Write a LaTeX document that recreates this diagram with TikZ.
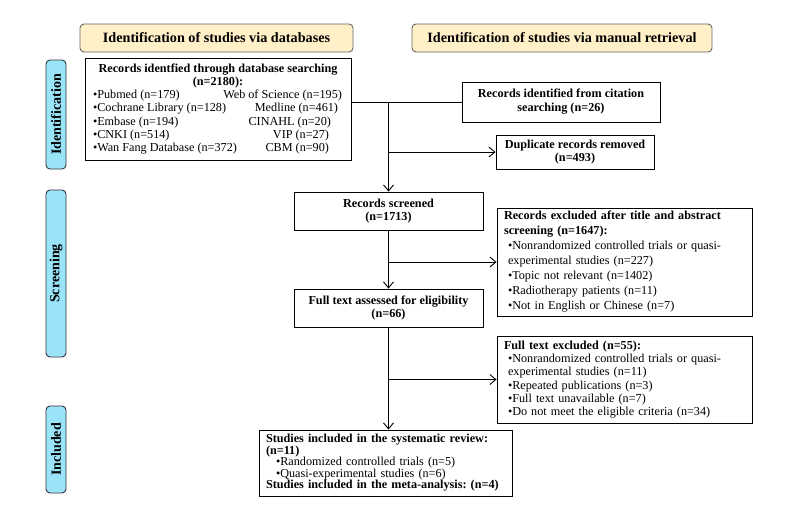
\documentclass[tikz,border=0pt]{standalone}
\usepackage{fontspec}
\setmainfont{Liberation Serif}
\usetikzlibrary{arrows.meta}
\definecolor{hdrfill}{HTML}{FFF0C8}
\definecolor{sidefill}{HTML}{9AE4FA}
% one line of the database list: left entry, right entry, gap at the right
\newcommand{\dbrow}[3]{\makebox[250pt]{#1\hfill#2\hspace*{#3}}}
\begin{document}
\frenchspacing
\begin{tikzpicture}
    [
        x=1pt, y=-1pt,
        >={Straight Barb[length=6pt,width=10pt]},
        link/.style={line width=0.9pt,},
        box/.style={draw, line width=0.9pt, inner sep=0pt, align=center,
            font=\fontsize{12.2}{13.3}\selectfont,},
        listbox/.style={box, align=left, inner xsep=7pt,},
        hdr/.style={draw=black!60, fill=hdrfill, rounded corners=4pt, line width=0.9pt,
            minimum height=28pt, font=\bfseries\fontsize{14.2}{16}\selectfont,},
        side/.style={draw=black!80, fill=sidefill, rounded corners=4pt, line width=0.9pt,
            rotate=90, minimum height=20pt, inner sep=0pt,
            font=\bfseries\fontsize{14}{15}\selectfont,},
    ]
    \useasboundingbox (0,0) rectangle (800,515);

    % headers
    \node (hdb)  at (216.5,38) [hdr, minimum width=273pt] {Identification of studies via databases};
    \node (hman) at (562,38)   [hdr, minimum width=300pt] {Identification of studies via manual retrieval};

    % stages
    \node (sid)  at (56,114.5) [side, minimum width=109pt] {Identification};
    \node (sscr) at (56,273.5) [side, minimum width=167pt] {Screening};
    \node (sinc) at (56,449.5) [side, minimum width=87pt]  {Included};

    % identification
    \node (db) at (218,109) [box, minimum width=266pt, minimum height=102pt]
        {\textbf{Records identfied through database searching}\\
         \textbf{(n=2180):}\\
         \dbrow{•Pubmed (n=179)}{Web of Science (n=195)}{1pt}\\
         \dbrow{•Cochrane Library (n=128)}{Medline (n=461)}{5pt}\\
         \dbrow{•Embase (n=194)}{CINAHL (n=20)}{12pt}\\
         \dbrow{•CNKI (n=514)}{VIP (n=27)}{14pt}\\
         \dbrow{•Wan Fang Database (n=372)}{CBM (n=90)}{14pt}};
    \node (cite) at (561,102) [box, minimum width=198pt, minimum height=40pt,
        font=\fontsize{12.2}{14}\selectfont]
        {\textbf{Records identified from citation}\\ \textbf{searching (n=26)}};
    \node (dup) at (575,152) [box, minimum width=158pt, minimum height=34pt]
        {\textbf{Duplicate records removed}\\ \textbf{(n=493)}};

    % screening
    \node (scr) at (388.5,211) [box, minimum width=189pt, minimum height=38pt]
        {\textbf{Records screened}\\ \textbf{(n=1713)}};
    \node (exa) at (624.5,262) [listbox, text width=241pt, minimum height=108pt,
        font=\fontsize{12.2}{15}\selectfont]
        {\textbf{Records excluded after title and abstract}\\
         \textbf{screening (n=1647):}\\
         \hspace*{4pt}•Nonrandomized controlled trials or quasi-\\
         \hspace*{4pt}experimental studies (n=227)\\
         \hspace*{4pt}•Topic not relevant (n=1402)\\
         \hspace*{4pt}•Radiotherapy patients (n=11)\\
         \hspace*{4pt}•Not in English or Chinese (n=7)};
    \node (full) at (388.5,308) [box, minimum width=189pt, minimum height=38pt]
        {\textbf{Full text assessed for eligibility}\\ \textbf{(n=66)}};
    \node (exb) at (624.5,379.5) [listbox, text width=241pt, minimum height=87pt]
        {\textbf{Full text excluded (n=55):}\\
         \hspace*{4pt}•Nonrandomized controlled trials or quasi-\\
         \hspace*{4pt}experimental studies (n=11)\\
         \hspace*{4pt}•Repeated publications (n=3)\\
         \hspace*{4pt}•Full text unavailable (n=7)\\
         \hspace*{4pt}•Do not meet the eligible criteria (n=34)};

    % included
    \node (inc) at (385.5,463) [listbox, text width=239pt, minimum height=66pt,
        font=\fontsize{12.2}{11.5}\selectfont]
        {\textbf{Studies included in the systematic review:}\\
         \textbf{(n=11)}\\
         \hspace*{10pt}•Randomized controlled trials (n=5)\\
         \hspace*{10pt}•Quasi-experimental studies (n=6)\\
         \textbf{Studies included in the meta-analysis: (n=4)}};

    % connectors
    \coordinate (j1) at (cite.west -| scr.north);
    \coordinate (j2) at (dup.west -| scr.north);
    \coordinate (j3) at (exa.west -| scr.south);
    \coordinate (j4) at (exb.west -| full.south);

    \draw [link] (cite.west) -- (cite.west -| db.east);
    \draw [link,->] (j1) -- (scr.north);
    \draw [link,->] (j2) -- (dup.west);
    \draw [link,->] (scr.south) -- (full.north);
    \draw [link,->] (j3) -- (exa.west);
    \draw [link,->] (full.south) -- (inc.north -| full.south);
    \draw [link,->] (j4) -- (exb.west);

\end{tikzpicture}
\end{document}
